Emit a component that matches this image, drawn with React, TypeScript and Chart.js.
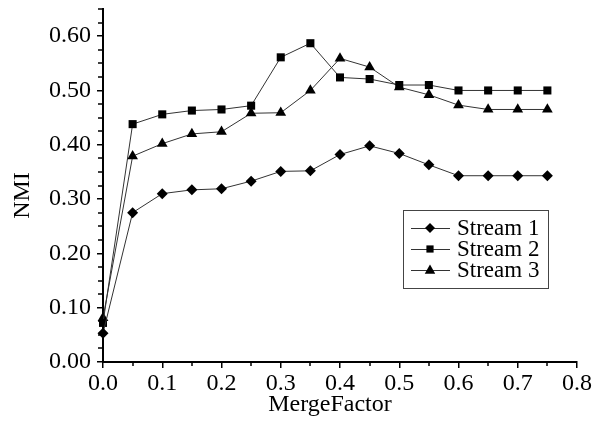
import React, { useEffect, useRef } from 'react';
import { Chart, registerables } from 'chart.js';
Chart.register(...registerables);

const xValues = [0, 0.05, 0.1, 0.15, 0.2, 0.25, 0.3, 0.35, 0.4, 0.45, 0.5, 0.55, 0.6, 0.65, 0.7, 0.75];
const stream1 = [0.053, 0.275, 0.310, 0.317, 0.319, 0.333, 0.351, 0.352, 0.382, 0.398, 0.384, 0.363, 0.343, 0.343, 0.343, 0.343];
const stream2 = [0.072, 0.438, 0.456, 0.463, 0.465, 0.472, 0.561, 0.587, 0.524, 0.521, 0.510, 0.510, 0.500, 0.500, 0.500, 0.500];
const stream3 = [0.081, 0.379, 0.402, 0.420, 0.424, 0.458, 0.459, 0.500, 0.559, 0.543, 0.506, 0.492, 0.473, 0.465, 0.465, 0.465];
const seriesLabels = ['Stream 1', 'Stream 2', 'Stream 3'];
const seriesMarkers = ['rectRot', 'rect', 'triangle'];
const xTicks = [0, 0.1, 0.2, 0.3, 0.4, 0.5, 0.6, 0.7, 0.8];
const yTicks = [0, 0.1, 0.2, 0.3, 0.4, 0.5, 0.6];
const xMinorStep = 0.05;
const yMinorStep = 0.025;
const xTitle = 'MergeFactor';
const yTitle = 'NMI';

const FONT = "'Liberation Serif', 'Times New Roman', serif";

const minorTicksPlugin = {
  id: 'minorTicks',
  afterDraw(chart: any) {
    const ctx = chart.ctx;
    const xs = chart.scales.x;
    const ys = chart.scales.y;
    const area = chart.chartArea;
    ctx.save();
    ctx.strokeStyle = '#000';
    ctx.lineWidth = 1.5;
    ctx.beginPath();
    const nx = Math.round((xs.max - xs.min) / xMinorStep);
    for (let i = 0; i <= nx; i++) {
      const v = xs.min + i * xMinorStep;
      if (i % 2 === 0) continue;
      const px = Math.round(xs.getPixelForValue(v));
      ctx.moveTo(px, area.bottom);
      ctx.lineTo(px, area.bottom + 4);
    }
    const ny = Math.round((ys.max - ys.min) / yMinorStep);
    for (let i = 0; i <= ny; i++) {
      const v = ys.min + i * yMinorStep;
      if (i % 4 === 0 && v <= 0.6 + 1e-9) continue;
      const py = Math.round(ys.getPixelForValue(v));
      ctx.moveTo(area.left, py);
      ctx.lineTo(area.left - 5, py);
    }
    ctx.stroke();

    // axis titles
    ctx.fillStyle = '#000';
    ctx.font = `24px ${FONT}`;
    ctx.textAlign = 'center';
    ctx.textBaseline = 'middle';
    ctx.fillText(xTitle, (area.left + area.right) / 2 - 10, 405);
    ctx.save();
    ctx.translate(23, (area.top + area.bottom) / 2 + 10);
    ctx.rotate(-Math.PI / 2);
    ctx.fillText(yTitle, 0, 0);
    ctx.restore();
    ctx.restore();
  },
};

function drawMarker(ctx: CanvasRenderingContext2D, style: string, x: number, y: number, r: number) {
  ctx.beginPath();
  if (style === 'rect') {
    ctx.rect(x - r * 0.8, y - r * 0.8, r * 1.6, r * 1.6);
  } else if (style === 'rectRot') {
    ctx.moveTo(x, y - r);
    ctx.lineTo(x + r, y);
    ctx.lineTo(x, y + r);
    ctx.lineTo(x - r, y);
    ctx.closePath();
  } else {
    ctx.moveTo(x, y - r);
    ctx.lineTo(x + r * 0.95, y + r * 0.7);
    ctx.lineTo(x - r * 0.95, y + r * 0.7);
    ctx.closePath();
  }
  ctx.fill();
}

const legendPlugin = {
  id: 'customLegend',
  afterDraw(chart: any) {
    const ctx = chart.ctx;
    const area = chart.chartArea;
    const left = area.left + 300;
    const top = 210;
    const w = 145;
    const h = 78;
    ctx.save();
    ctx.fillStyle = '#fff';
    ctx.fillRect(left, top, w, h);
    ctx.strokeStyle = '#444';
    ctx.lineWidth = 1;
    ctx.strokeRect(left + 0.5, top + 0.5, w, h);
    ctx.font = `23px ${FONT}`;
    ctx.textBaseline = 'middle';
    chart.data.datasets.forEach((ds: any, i: number) => {
      const cy = top + 18 + i * 21;
      ctx.strokeStyle = '#333';
      ctx.lineWidth = 1;
      ctx.beginPath();
      ctx.moveTo(left + 8, cy + 0.5);
      ctx.lineTo(left + 47, cy + 0.5);
      ctx.stroke();
      ctx.fillStyle = '#000';
      const r = ds.pointStyle === 'triangle' ? 5.5 : ds.pointStyle === 'rect' ? 4.5 : 5;
      drawMarker(ctx, ds.pointStyle, left + 27, cy, r);
      ctx.fillStyle = '#000';
      ctx.fillText(ds.label, left + 54, cy + 1);
    });
    ctx.restore();
  },
};

export default function App() {
  const ref = useRef<HTMLCanvasElement | null>(null);
  useEffect(() => {
    if (!ref.current) return;
    const series = [stream1, stream2, stream3];
    const radii = [5.5, 5.7, 6.2];
    const chart = new Chart(ref.current, {
      type: 'line',
      data: {
        datasets: series.map((s, i) => ({
          label: seriesLabels[i],
          data: xValues.map((x, j) => ({ x, y: s[j] })),
          borderColor: '#333',
          borderWidth: 1,
          backgroundColor: '#000',
          pointBackgroundColor: '#000',
          pointBorderColor: '#000',
          pointBorderWidth: 0,
          pointStyle: seriesMarkers[i] as any,
          pointRadius: radii[i],
          tension: 0,
          clip: false as any,
        })),
      },
      options: {
        animation: false,
        responsive: false,
        events: [],
        layout: { padding: { top: 9, right: 23, left: 0, bottom: 0 } },
        plugins: { legend: { display: false }, tooltip: { enabled: false } },
        scales: {
          x: {
            type: 'linear',
            min: 0,
            max: 0.8,
            afterBuildTicks: (scale: any) => {
              scale.ticks = xTicks.map((v) => ({ value: v }));
            },
            afterFit: (scale: any) => {
              scale.height = 61;
              scale.paddingLeft = 0;
              scale.paddingRight = 0;
            },
            ticks: {
              color: '#000',
              font: { family: FONT, size: 24 },
              padding: 1,
              maxRotation: 0,
              callback: (v: any) => Number(v).toFixed(1),
            },
            grid: { drawOnChartArea: false, drawTicks: true, tickLength: 6, color: '#000', lineWidth: 1.5 },
            border: { display: true, color: '#000', width: 2 },
            title: { display: false },
          },
          y: {
            type: 'linear',
            min: 0,
            max: 0.65,
            afterBuildTicks: (scale: any) => {
              scale.ticks = yTicks.map((v) => ({ value: v }));
            },
            afterFit: (scale: any) => {
              scale.width = 103;
              scale.paddingTop = 0;
              scale.paddingBottom = 0;
            },
            ticks: {
              color: '#000',
              font: { family: FONT, size: 24 },
              padding: 6,
              callback: (v: any) => Number(v).toFixed(2),
            },
            grid: { drawOnChartArea: false, drawTicks: true, tickLength: 6, color: '#000', lineWidth: 1.5 },
            border: { display: true, color: '#000', width: 2 },
            title: { display: false },
          },
        },
      },
      plugins: [minorTicksPlugin, legendPlugin],
    });
    return () => chart.destroy();
  }, []);
  return (
    <div style={{ position: 'fixed', left: 0, top: 0, width: 600, height: 423, background: '#fff' }}>
      <canvas ref={ref} width={600} height={423} style={{ width: 600, height: 423, display: 'block' }} />
    </div>
  );
}
